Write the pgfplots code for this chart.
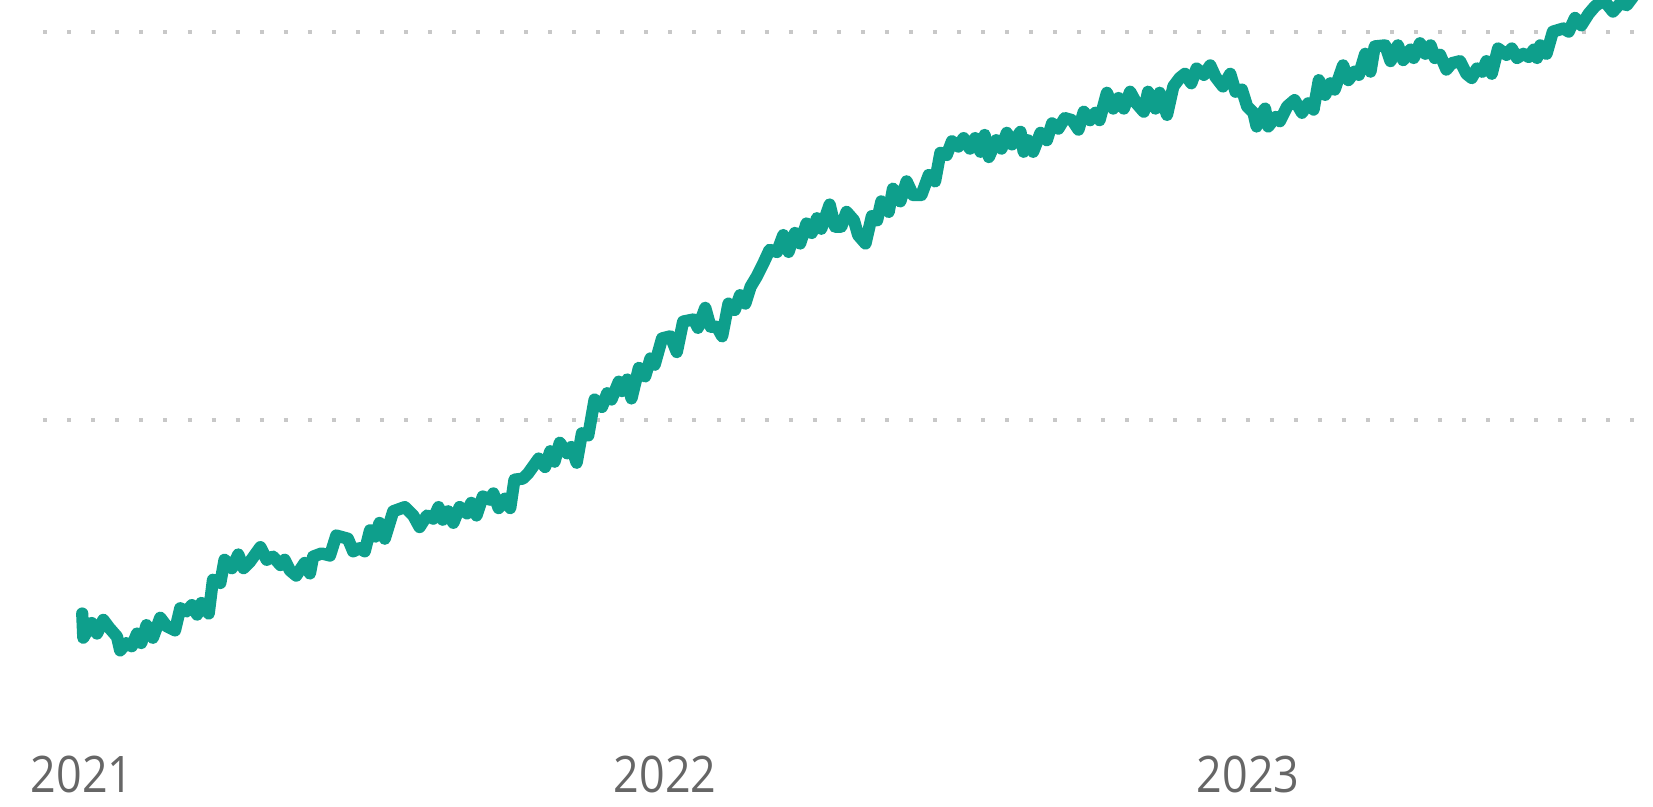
\documentclass[border=0pt]{standalone}
\usepackage{pgfplots}
\pgfplotsset{compat=1.18}
\usepackage{fontspec}
\setmainfont{Open Sans}[FakeStretch=0.89]
\definecolor{lineteal}{HTML}{0E9F8C}
\definecolor{gridgray}{HTML}{C8C8C8}
\definecolor{labelgray}{HTML}{666666}

% t = position along the time axis, v = level (y labels are cut off in the source)
\pgfplotstableread{
t v
-2 183
-1 160
7 174
12 164
18 177
24 169
31 161
34 148
40 155
45 152
50 164
54 155
59 172
65 160
72 179
78 171
86 167
91 188
97 185
102 191
107 182
111 193
118 183
122 215
129 212
133 234
140 226
146 239
151 226
157 232
167 246
173 234
179 237
186 229
190 234
195 224
201 219
209 231
214 221
217 237
225 240
233 238
239 257
250 254
255 242
261 245
266 242
271 262
276 256
280 269
285 254
293 280
304 284
312 276
318 265
325 276
331 273
336 284
340 272
345 280
350 269
356 284
363 278
367 288
372 276
378 294
385 291
388 297
393 283
399 292
404 283
408 310
416 311
421 316
431 330
437 322
442 337
446 327
451 345
458 335
462 341
467 326
472 354
478 352
484 386
491 379
496 392
500 386
507 403
510 394
515 405
519 387
526 416
532 408
537 425
541 419
548 444
556 446
562 431
568 460
578 462
582 454
589 473
594 455
600 455
605 446
611 477
617 471
622 485
627 477
632 493
638 503
644 515
650 528
657 526
663 542
668 526
674 544
679 534
685 553
690 544
695 558
699 548
707 571
712 550
718 550
723 564
730 556
734 542
741 534
747 560
752 556
756 574
763 564
767 586
774 574
780 593
786 580
794 580
801 599
807 593
812 620
818 618
823 631
829 626
834 634
840 624
845 634
850 621
854 637
858 616
865 632
870 624
875 639
880 628
888 640
891 621
895 632
900 621
907 639
913 632
918 648
924 643
930 653
937 651
943 642
948 659
954 651
959 658
963 651
970 677
976 662
981 672
986 662
992 678
998 667
1005 659
1009 678
1016 662
1020 677
1027 656
1033 683
1039 691
1044 695
1050 686
1055 700
1062 694
1068 703
1073 692
1080 683
1087 695
1092 678
1098 680
1103 664
1109 658
1112 645
1115 654
1120 662
1123 645
1130 654
1134 650
1141 664
1148 670
1155 658
1161 667
1166 661
1171 689
1177 675
1182 686
1186 680
1194 703
1199 689
1205 697
1209 694
1215 714
1220 697
1224 721
1234 722
1239 707
1246 722
1251 708
1258 718
1261 710
1267 724
1272 714
1277 722
1281 710
1286 713
1292 699
1297 705
1305 707
1311 695
1316 691
1321 700
1326 697
1330 707
1335 695
1341 719
1349 713
1354 719
1359 710
1365 714
1370 711
1375 718
1378 710
1381 722
1387 714
1393 735
1403 738
1408 735
1414 748
1420 741
1427 752
1433 759
1441 765
1450 754
1458 763
1463 760
1469 768
1480 785
}\seriesdata

\begin{document}
\begin{tikzpicture}
\useasboundingbox (0,0) rectangle (15.68cm,-7.65cm);
\begin{axis}[
    at={(0.41cm,0)},
    anchor=north west,
    scale only axis,
    width=15.27cm,
    height=6.8cm,
    xmin=-39, xmax=1488,
    ymin=85, ymax=765,
    axis line style={draw=none},
    tick style={draw=none},
    xtick={-2,551,1104},
    xticklabels={2021,2022,2023},
    xticklabel style={anchor=base, yshift=-0.72cm, text=labelgray,
        font=\fontsize{13.6pt}{16pt}\selectfont},
    ytick={367,735},
    yticklabels={},
    ymajorgrids,
    major grid style={draw=gridgray, line width=1.08pt,
        dash pattern=on 1.08pt off 5.41pt},
]
\addplot[color=lineteal, line width=3.3pt, line join=round, line cap=round]
    table[x=t, y=v] {\seriesdata};
\end{axis}
\end{tikzpicture}
\end{document}
